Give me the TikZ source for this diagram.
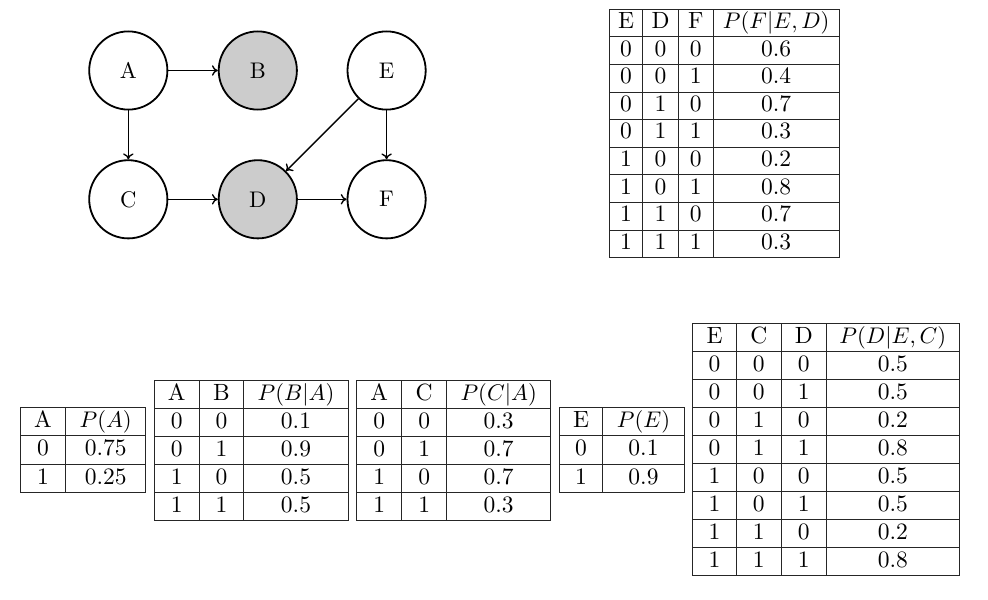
\documentclass[tikz,border=0pt]{standalone}
\usetikzlibrary{arrows.meta}
\tikzset{
  gnode/.style={circle, draw, line width=0.8pt, minimum size=34.6pt, inner sep=0pt, font=\fontsize{10}{12}\selectfont},
  obs/.style={gnode, fill=gray!40},
  edge/.style={-{To[length=2.6pt,width=4.6pt]}, line width=0.6pt},
  cellt/.style={anchor=base, inner sep=0pt, font=\fontsize{10.4}{12}\selectfont},
  tgrid/.style={line width=0.45pt, draw=black!85, line cap=rect}
}
% #1 x list, #2 first x, #3 last x, #4 top y, #5 row height, #6 rows
\newcommand\tablegrid[6]{%
  \foreach \xx in {#1} \draw[tgrid] (\xx,#4) -- (\xx,{#4+#5*#6});
  \foreach \kk in {0,...,#6} \draw[tgrid] (#2,{#4+#5*\kk}) -- (#3,{#4+#5*\kk});
}
\begin{document}
\begin{tikzpicture}[x=0.4425pt, y=-0.4425pt]
\useasboundingbox (0,0) rectangle (988,600);

% ---------- graph ----------
\node[gnode] (A) at (128.3,70.5) {A};
\node[obs]   (B) at (257.8,70.5) {B};
\node[gnode] (E) at (386.6,70.5) {E};
\node[gnode] (C) at (128.3,199.3) {C};
\node[obs]   (D) at (257.8,199.3) {D};
\node[gnode] (F) at (386.6,199.3) {F};
\draw[edge] (A) -- (B);
\draw[edge] (A) -- (C);
\draw[edge] (C) -- (D);
\draw[edge] (D) -- (F);
\draw[edge] (E) -- (D);
\draw[edge] (E) -- (F);

% ---------- P(F|E,D) ----------
\tablegrid{609.3,642.7,678.5,713.2,839.3}{609.3}{839.3}{9.3}{27.6}{9}
\foreach \a/\b/\c/\d [count=\i from 0] in {E/D/F/{$P(F|E,D)$},0/0/0/0.6,0/0/1/0.4,0/1/0/0.7,0/1/1/0.3,1/0/0/0.2,1/0/1/0.8,1/1/0/0.7,1/1/1/0.3}{
  \pgfmathsetmacro\yb{9.3+27.6*(\i+1)-8.3}
  \node[cellt] (tf-\i-1) at (626,\yb) {\a};
  \node[cellt] (tf-\i-2) at (660.6,\yb) {\b};
  \node[cellt] (tf-\i-3) at (695.85,\yb) {\c};
  \node[cellt] (tf-\i-4) at (776.2,\yb) {\d};
}

% ---------- P(A) ----------
\tablegrid{20.3,65.7,145.7}{20.3}{145.7}{407.7}{28.2}{3}
\foreach \a/\b [count=\i from 0] in {A/{$P(A)$},0/0.75,1/0.25}{
  \pgfmathsetmacro\yb{407.7+28.2*(\i+1)-8.3}
  \node[cellt] (ta-\i-1) at (43,\yb) {\a};
  \node[cellt] (ta-\i-2) at (105.7,\yb) {\b};
}

% ---------- P(B|A) ----------
\tablegrid{154.3,199.3,243.7,348.3}{154.3}{348.3}{380.3}{28}{5}
\foreach \a/\b/\c [count=\i from 0] in {A/B/{$P(B|A)$},0/0/0.1,0/1/0.9,1/0/0.5,1/1/0.5}{
  \pgfmathsetmacro\yb{380.3+28*(\i+1)-8.3}
  \node[cellt] (tb-\i-1) at (176.8,\yb) {\a};
  \node[cellt] (tb-\i-2) at (221.5,\yb) {\b};
  \node[cellt] (tb-\i-3) at (296,\yb) {\c};
}

% ---------- P(C|A) ----------
\tablegrid{356.7,401.7,446.7,550.7}{356.7}{550.7}{380.3}{28}{5}
\foreach \a/\b/\c [count=\i from 0] in {A/C/{$P(C|A)$},0/0/0.3,0/1/0.7,1/0/0.7,1/1/0.3}{
  \pgfmathsetmacro\yb{380.3+28*(\i+1)-8.3}
  \node[cellt] (tc-\i-1) at (379.2,\yb) {\a};
  \node[cellt] (tc-\i-2) at (424.2,\yb) {\b};
  \node[cellt] (tc-\i-3) at (498.7,\yb) {\c};
}

% ---------- P(E) ----------
\tablegrid{559.3,602.7,684.3}{559.3}{684.3}{407.7}{28.2}{3}
\foreach \a/\b [count=\i from 0] in {E/{$P(E)$},0/0.1,1/0.9}{
  \pgfmathsetmacro\yb{407.7+28.2*(\i+1)-8.3}
  \node[cellt] (te-\i-1) at (581,\yb) {\a};
  \node[cellt] (te-\i-2) at (643.5,\yb) {\b};
}

% ---------- P(D|E,C) ----------
\tablegrid{692.7,736.3,781.3,826.3,959.3}{692.7}{959.3}{323.3}{28.07}{9}
\foreach \a/\b/\c/\d [count=\i from 0] in {E/C/D/{$P(D|E,C)$},0/0/0/0.5,0/0/1/0.5,0/1/0/0.2,0/1/1/0.8,1/0/0/0.5,1/0/1/0.5,1/1/0/0.2,1/1/1/0.8}{
  \pgfmathsetmacro\yb{323.3+28.07*(\i+1)-8.3}
  \node[cellt] (td-\i-1) at (714.5,\yb) {\a};
  \node[cellt] (td-\i-2) at (758.8,\yb) {\b};
  \node[cellt] (td-\i-3) at (803.8,\yb) {\c};
  \node[cellt] (td-\i-4) at (892.8,\yb) {\d};
}
\end{tikzpicture}
\end{document}
